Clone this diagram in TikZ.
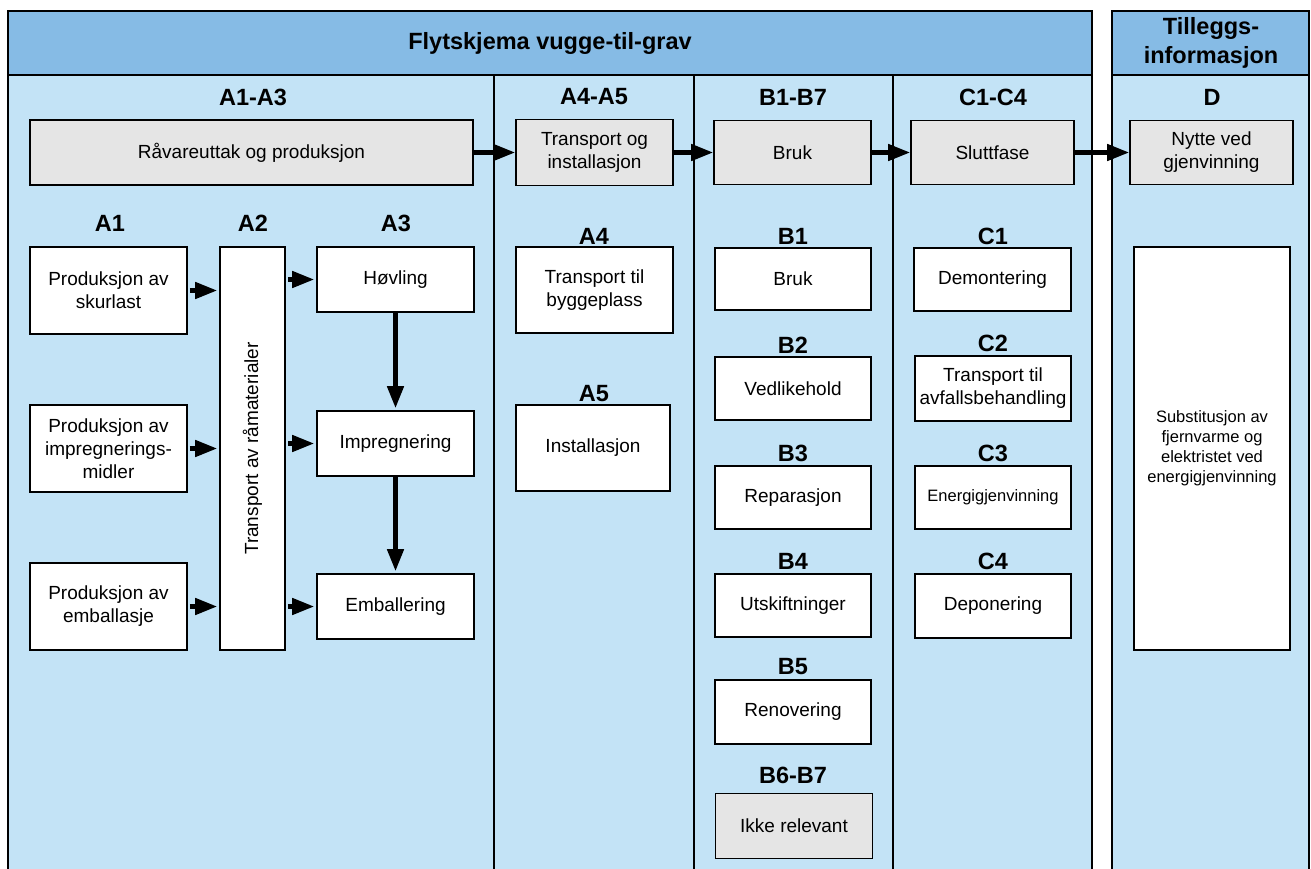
\documentclass[tikz,border=0pt]{standalone}
\usepackage{fontspec}
\setmainfont{Liberation Sans}
\usetikzlibrary{arrows.meta}

\definecolor{hdrblue}{RGB}{134,187,229}
\definecolor{paleblue}{RGB}{195,227,246}
\definecolor{boxgrey}{RGB}{229,229,229}

\begin{document}
\begin{tikzpicture}[x=1pt,y=-1pt,
  frame/.style={draw,line width=2pt},
  box/.style={draw,line width=1.6pt,fill=white,align=center,inner sep=2pt,
    font=\fontsize{19}{23}\selectfont},
  greybox/.style={box,fill=boxgrey},
  smallbox/.style={box,font=\fontsize{16.5}{20}\selectfont},
  lbl/.style={font=\fontsize{23.5}{29}\selectfont\bfseries,align=center},
  flow/.style={line width=4.5pt,-{Triangle[length=22pt,width=16pt]},
    shorten <=2pt,shorten >=2pt}]

\useasboundingbox (0,0) rectangle (1311,869);
\clip (0,0) rectangle (1311,869);

% frames
\draw[frame,fill=paleblue] (8,11) rectangle (1092,890);
\draw[frame,fill=hdrblue] (8,11) rectangle (1092,75);
\draw[frame,fill=paleblue] (1112,11) rectangle (1309,890);
\draw[frame,fill=hdrblue] (1112,11) rectangle (1309,75);
\foreach \x in {494,694,893}
  \draw[frame] (\x,75) -- (\x,890);

\node[lbl] (title) at (550,43) {Flytskjema vugge-til-grav};
\node[lbl] (extra) at (1211,43) {Tilleggs-\\informasjon};

\node[lbl] (hA13) at (253,97) {A1-A3};
\node[lbl] (hA45) at (594,97) {A4-A5};
\node[lbl] (hB17) at (793,97) {B1-B7};
\node[lbl] (hC14) at (993,97) {C1-C4};
\node[lbl] (hD) at (1212,97) {D};

% top row
\node[greybox,minimum width=443pt,minimum height=65pt] (raw) at (251.5,152.5) {Råvareuttak og produksjon};
\node[greybox,minimum width=157pt,minimum height=66pt] (trans) at (594.5,152.5) {Transport og\\installasjon};
\node[greybox,minimum width=157pt,minimum height=64pt] (bruk) at (792.5,152.5) {Bruk};
\node[greybox,minimum width=163pt,minimum height=64pt] (slutt) at (992.5,152.5) {Sluttfase};
\node[greybox,minimum width=163pt,minimum height=64pt] (nytte) at (1211.5,152.5) {Nytte ved\\gjenvinning};

\draw[flow,shorten <=0pt,shorten >=0pt] (raw.east) -- (trans.west);
\draw[flow,shorten <=0pt,shorten >=0pt] (trans.east) -- (bruk.west);
\draw[flow,shorten <=0pt,shorten >=0pt] (bruk.east) -- (slutt.west);
\draw[flow,shorten <=0pt,shorten >=0pt] (slutt.east) -- (nytte.west);

% A1-A3
\node[lbl] (lA1) at (110,223) {A1};
\node[lbl] (lA2) at (253,223) {A2};
\node[lbl] (lA3) at (396,223) {A3};

\node[box,minimum width=157pt,minimum height=87pt] (skur) at (108.5,290.5) {Produksjon av\\skurlast};
\node[box,minimum width=157pt,minimum height=87pt] (midler) at (108.5,448.5) {Produksjon av\\impregnerings-\\midler};
\node[box,minimum width=157pt,minimum height=87pt] (embal) at (108.5,606.5) {Produksjon av\\emballasje};

\node[box,minimum width=65pt,minimum height=403pt] (ramat) at (252.5,448.5) {};
\node[rotate=90,font=\fontsize{19}{23}\selectfont] (ramattxt) at (ramat.center) {Transport av råmaterialer};

\node[box,minimum width=157pt,minimum height=65pt] (hovl) at (395.5,279.5) {Høvling};
\node[box,minimum width=157pt,minimum height=65pt] (impr) at (395.5,443.5) {Impregnering};
\node[box,minimum width=157pt,minimum height=65pt] (emb) at (395.5,606.5) {Emballering};

\draw[flow] (skur.east) -- (skur.east -| ramat.west);
\draw[flow] (midler.east) -- (midler.east -| ramat.west);
\draw[flow] (embal.east) -- (embal.east -| ramat.west);
\draw[flow] (ramat.east |- hovl.west) -- (hovl.west);
\draw[flow] (ramat.east |- impr.west) -- (impr.west);
\draw[flow] (ramat.east |- emb.west) -- (emb.west);
\draw[flow,shorten <=0pt] (hovl) -- (impr);
\draw[flow,shorten <=0pt] (impr) -- (emb);

% A4-A5
\node[lbl] (lA4) at (594,236) {A4};
\node[box,minimum width=157pt,minimum height=86pt] (bygg) at (594.5,290) {Transport til\\byggeplass};
\node[lbl] (lA5) at (594,394) {A5};
\node[box,minimum width=154pt,minimum height=86pt] (inst) at (593,448) {Installasjon};

% B1-B7
\node[lbl] (lB1) at (793,236) {B1};
\node[box,minimum width=156pt,minimum height=62pt] (b1) at (793,279) {Bruk};
\node[lbl] (lB2) at (793,345) {B2};
\node[box,minimum width=156pt,minimum height=63pt] (b2) at (793,388.5) {Vedlikehold};
\node[lbl] (lB3) at (793,453) {B3};
\node[box,minimum width=156pt,minimum height=63pt] (b3) at (793,497.5) {Reparasjon};
\node[lbl] (lB4) at (793,561) {B4};
\node[box,minimum width=156pt,minimum height=63pt] (b4) at (793,605.5) {Utskiftninger};
\node[lbl] (lB5) at (793,667) {B5};
\node[box,minimum width=156pt,minimum height=64pt] (b5) at (793,712) {Renovering};
\node[lbl] (lB67) at (793,775) {B6-B7};
\node[greybox,minimum width=157pt,minimum height=65pt] (b67) at (794,826) {Ikke relevant};

% C1-C4
\node[lbl] (lC1) at (993,236) {C1};
\node[box,minimum width=157pt,minimum height=63pt] (c1) at (992.5,279.5) {Demontering};
\node[lbl] (lC2) at (993,343) {C2};
\node[box,minimum width=156pt,minimum height=65pt,inner sep=0pt] (c2) at (993,388.5) {Transport til\\avfallsbehandling};
\node[lbl] (lC3) at (993,453) {C3};
\node[smallbox,minimum width=156pt,minimum height=63pt] (c3) at (993,497.5) {Energigjenvinning};
\node[lbl] (lC4) at (993,561) {C4};
\node[box,minimum width=156pt,minimum height=64pt] (c4) at (993,606) {Deponering};

% D
\node[smallbox,minimum width=156pt,minimum height=403pt] (subst) at (1212,448.5) {Substitusjon av\\fjernvarme og\\elektristet ved\\energigjenvinning};

\end{tikzpicture}
\end{document}
